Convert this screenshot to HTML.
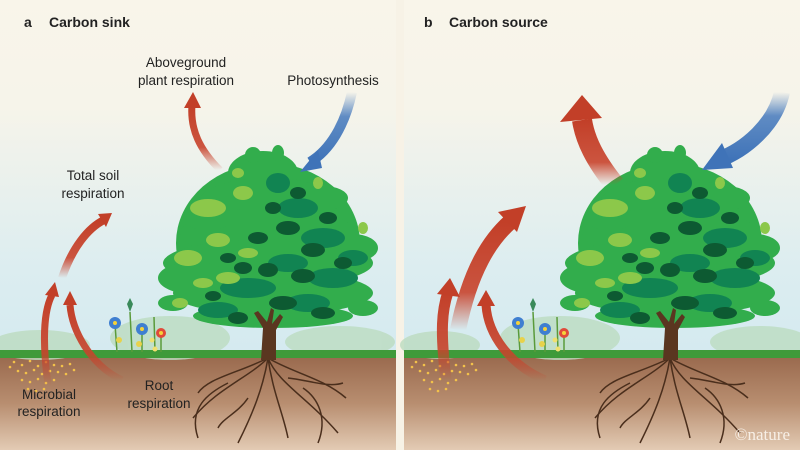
<!DOCTYPE html>
<html><head><meta charset="utf-8"><style>
html,body{margin:0;padding:0;background:#fff}
svg{display:block}
text{font-family:"Liberation Sans",sans-serif;fill:#222}
</style></head><body>
<svg width="800" height="450" viewBox="0 0 800 450" xmlns="http://www.w3.org/2000/svg">
<defs>
<linearGradient id="sky" x1="0" y1="0" x2="0" y2="1">
<stop offset="0" stop-color="#f9f5ea"/><stop offset="0.3" stop-color="#f6f4ea"/><stop offset="0.75" stop-color="#dcedf0"/><stop offset="1" stop-color="#d4eaf0"/></linearGradient>
<linearGradient id="soil" x1="0" y1="0" x2="0" y2="1">
<stop offset="0" stop-color="#9a6a4e"/><stop offset="0.5" stop-color="#b88e70"/><stop offset="1" stop-color="#e3cbb4"/></linearGradient>
<linearGradient id="redUp" x1="0" y1="1" x2="0" y2="0">
<stop offset="0" stop-color="#c8432c" stop-opacity="0"/><stop offset="0.35" stop-color="#c8432c" stop-opacity="0.9"/><stop offset="1" stop-color="#c23f28"/></linearGradient>
<linearGradient id="blueDn" x1="0" y1="0" x2="0" y2="1">
<stop offset="0" stop-color="#4f80bf" stop-opacity="0"/><stop offset="0.35" stop-color="#4f80bf" stop-opacity="0.9"/><stop offset="1" stop-color="#3f73b8"/></linearGradient>
<g id="tree">
<g stroke="#4a2e1c" stroke-width="1.5" fill="none">
<path d="M0 0 C-20 20 -50 30 -75 60"/><path d="M0 0 C-30 15 -60 20 -70 35"/><path d="M0 0 C10 25 40 40 70 75"/><path d="M0 0 C25 15 55 20 78 40"/><path d="M0 0 C-5 30 -15 55 -30 85"/><path d="M0 0 C5 35 15 55 20 80"/><path d="M-40 25 C-60 35 -80 50 -70 80"/><path d="M35 30 C50 40 60 60 50 85"/><path d="M-20 40 C-30 55 -45 60 -50 70"/><path d="M20 20 C40 22 60 30 75 25"/>
</g>
<g fill="#32ad4c">
<ellipse cx="0" cy="-115" rx="92" ry="80"/>
<ellipse cx="-5" cy="-185" rx="35" ry="22"/>
<ellipse cx="0" cy="-155" rx="70" ry="25"/>
<ellipse cx="0" cy="-125" rx="88" ry="25"/>
<ellipse cx="0" cy="-95" rx="105" ry="24"/>
<ellipse cx="5" cy="-65" rx="100" ry="22"/>
<ellipse cx="5" cy="-42" rx="80" ry="12"/>
<ellipse cx="-75" cy="-80" rx="35" ry="16"/><ellipse cx="85" cy="-110" rx="25" ry="14"/><ellipse cx="-60" cy="-140" rx="25" ry="12"/><ellipse cx="55" cy="-160" rx="25" ry="12"/>
<ellipse cx="-15" cy="-203" rx="8" ry="8"/><ellipse cx="10" cy="-205" rx="6" ry="8"/><ellipse cx="-95" cy="-55" rx="15" ry="8"/><ellipse cx="95" cy="-50" rx="15" ry="8"/>
</g>
<path d="M-7 2 L-5 -30 L-14 -45 L-10 -47 L-1 -36 L3 -50 L6 -48 L4 -34 L12 -44 L15 -41 L8 -28 L8 2 Z" fill="#5a3620"/>
<g fill="#118452">
<ellipse cx="30" cy="-150" rx="20" ry="10"/><ellipse cx="55" cy="-120" rx="22" ry="10"/><ellipse cx="20" cy="-95" rx="20" ry="9"/><ellipse cx="65" cy="-80" rx="25" ry="10"/><ellipse cx="-20" cy="-70" rx="28" ry="10"/><ellipse cx="40" cy="-55" rx="22" ry="9"/><ellipse cx="-50" cy="-48" rx="20" ry="8"/><ellipse cx="10" cy="-175" rx="12" ry="10"/><ellipse cx="85" cy="-100" rx="15" ry="8"/>
</g>
<g fill="#8cc84a">
<ellipse cx="-60" cy="-150" rx="18" ry="9"/><ellipse cx="-80" cy="-100" rx="14" ry="8"/><ellipse cx="-50" cy="-118" rx="12" ry="7"/><ellipse cx="-25" cy="-165" rx="10" ry="7"/><ellipse cx="-40" cy="-80" rx="12" ry="6"/><ellipse cx="-65" cy="-75" rx="10" ry="5"/><ellipse cx="-20" cy="-105" rx="10" ry="5"/><ellipse cx="50" cy="-175" rx="5" ry="6"/><ellipse cx="95" cy="-130" rx="5" ry="6"/><ellipse cx="-88" cy="-55" rx="8" ry="5"/><ellipse cx="-30" cy="-185" rx="6" ry="5"/>
</g>
<g fill="#0d5a32">
<ellipse cx="20" cy="-130" rx="12" ry="7"/><ellipse cx="45" cy="-108" rx="12" ry="7"/><ellipse cx="0" cy="-88" rx="10" ry="7"/><ellipse cx="35" cy="-82" rx="12" ry="7"/><ellipse cx="-10" cy="-120" rx="10" ry="6"/><ellipse cx="60" cy="-140" rx="9" ry="6"/><ellipse cx="15" cy="-55" rx="14" ry="7"/><ellipse cx="-25" cy="-90" rx="9" ry="6"/><ellipse cx="75" cy="-95" rx="9" ry="6"/><ellipse cx="-30" cy="-40" rx="10" ry="6"/><ellipse cx="55" cy="-45" rx="12" ry="6"/><ellipse cx="30" cy="-165" rx="8" ry="6"/><ellipse cx="-40" cy="-100" rx="8" ry="5"/><ellipse cx="5" cy="-150" rx="8" ry="6"/><ellipse cx="-55" cy="-62" rx="8" ry="5"/>
</g>
</g>
<g id="flowers">
<g stroke="#5a9a3a" stroke-width="1.5"><line x1="0" y1="0" x2="-2" y2="-28"/><line x1="25" y1="0" x2="25" y2="-22"/><line x1="44" y1="0" x2="44" y2="-18"/><line x1="15" y1="0" x2="13" y2="-40"/><line x1="38" y1="0" x2="37" y2="-35"/></g>
<path d="M13 -40 l-3 -8 l3 -6 l3 6z" fill="#3a8a5a"/>
<circle cx="-2" cy="-29" r="6" fill="#3f7fd0"/><circle cx="25" cy="-23" r="6" fill="#3f7fd0"/><circle cx="44" cy="-19" r="5" fill="#e04a3a"/><circle cx="44" cy="-19" r="2" fill="#f5d23a"/>
<circle cx="-2" cy="-29" r="2" fill="#f5d23a"/><circle cx="25" cy="-23" r="2" fill="#f5d23a"/>
<circle cx="2" cy="-12" r="3" fill="#e8d24a"/><circle cx="22" cy="-8" r="3" fill="#e8d24a"/><circle cx="35" cy="-12" r="2.5" fill="#f0e070"/><circle cx="38" cy="-3" r="2.5" fill="#f0e070"/>
</g>
<g id="dots" fill="#f3c24a">
<circle cx="0" cy="0" r="1.3"/><circle cx="8" cy="3" r="1.3"/><circle cx="16" cy="-1" r="1.3"/><circle cx="24" cy="4" r="1.3"/><circle cx="32" cy="0" r="1.3"/><circle cx="40" cy="3" r="1.3"/><circle cx="4" cy="9" r="1.3"/><circle cx="12" cy="11" r="1.3"/><circle cx="20" cy="8" r="1.3"/><circle cx="28" cy="12" r="1.3"/><circle cx="36" cy="9" r="1.3"/><circle cx="44" cy="10" r="1.3"/><circle cx="8" cy="18" r="1.3"/><circle cx="16" cy="20" r="1.3"/><circle cx="24" cy="17" r="1.3"/><circle cx="32" cy="21" r="1.3"/><circle cx="40" cy="18" r="1.3"/><circle cx="14" cy="27" r="1.3"/><circle cx="22" cy="29" r="1.3"/><circle cx="30" cy="27" r="1.3"/><circle cx="-4" cy="5" r="1.3"/><circle cx="48" cy="4" r="1.3"/><circle cx="56" cy="2" r="1.3"/><circle cx="52" cy="12" r="1.3"/><circle cx="60" cy="8" r="1.3"/>
</g>
</defs>
<rect width="800" height="450" fill="#f7f2e6"/>
<rect x="0" y="0" width="396" height="358" fill="url(#sky)"/>
<rect x="404" y="0" width="396" height="358" fill="url(#sky)"/>
<rect x="0" y="357" width="396" height="93" fill="url(#soil)"/>
<rect x="404" y="357" width="396" height="93" fill="url(#soil)"/>
<g fill="#bcdcc0" opacity="0.8">
<ellipse cx="40" cy="345" rx="50" ry="15"/><ellipse cx="170" cy="338" rx="60" ry="22"/><ellipse cx="340" cy="342" rx="55" ry="16"/>
<ellipse cx="440" cy="345" rx="40" ry="14"/><ellipse cx="560" cy="338" rx="60" ry="22"/><ellipse cx="760" cy="342" rx="50" ry="16"/>
</g>
<rect x="0" y="350" width="396" height="8" fill="#3f9a3a"/>
<rect x="404" y="350" width="396" height="8" fill="#3f9a3a"/>
<use href="#tree" x="268" y="358"/>
<use href="#tree" x="670" y="358"/>
<use href="#flowers" x="117" y="352"/>
<use href="#flowers" x="520" y="352"/>
<use href="#dots" x="14" y="362"/>
<use href="#dots" x="416" y="362"/>
<path d="M220 170 C200 150 190 130 192 105" stroke="url(#redUp)" stroke-width="7" fill="none"/>
<polygon points="184,108 193,92 201,108" fill="#c23f28"/>
<path d="M352 92 C345 125 330 150 310 162" stroke="url(#blueDn)" stroke-width="10" fill="none"/>
<polygon points="300,172 318,150 322,168" fill="#3f73b8"/>
<path d="M62 278 C72 248 88 228 104 220" stroke="url(#redUp)" stroke-width="8" fill="none"/>
<polygon points="98,214 112,213 106,227" fill="#c23f28"/>
<path d="M48 385 C42 340 44 310 52 295" stroke="url(#redUp)" stroke-width="7" fill="none"/>
<polygon points="45,295 55,282 59,297" fill="#c23f28"/>
<path d="M122 380 C90 365 72 330 70 305" stroke="url(#redUp)" stroke-width="7" fill="none"/>
<polygon points="63,305 70,291 77,305" fill="#c23f28"/>
<path d="M615 185 C595 160 585 140 582 120" stroke="url(#redUp)" stroke-width="20" fill="none"/>
<polygon points="560,122 582,95 602,118" fill="#c23f28"/>
<path d="M782 92 C775 125 745 150 718 160" stroke="url(#blueDn)" stroke-width="16" fill="none"/>
<polygon points="702,170 722,143 733,168" fill="#3f73b8"/>
<path d="M458 330 C470 270 490 240 510 222" stroke="url(#redUp)" stroke-width="16" fill="none"/>
<polygon points="498,212 526,206 517,232" fill="#c23f28"/>
<path d="M446 380 C440 330 442 310 448 292" stroke="url(#redUp)" stroke-width="11" fill="none"/>
<polygon points="437,294 450,278 460,297" fill="#c23f28"/>
<path d="M545 380 C510 365 488 335 486 305" stroke="url(#redUp)" stroke-width="9" fill="none"/>
<polygon points="477,306 486,290 495,306" fill="#c23f28"/>
<text x="24" y="27" font-size="14" font-weight="bold">a</text>
<text x="49" y="27" font-size="14" font-weight="bold">Carbon sink</text>
<text x="424" y="27" font-size="14" font-weight="bold">b</text>
<text x="449" y="27" font-size="14" font-weight="bold">Carbon source</text>
<text x="186" y="67" font-size="13.5" text-anchor="middle">Aboveground</text>
<text x="186" y="85" font-size="13.5" text-anchor="middle">plant respiration</text>
<text x="333" y="85" font-size="13.5" text-anchor="middle">Photosynthesis</text>
<text x="93" y="180" font-size="13.5" text-anchor="middle">Total soil</text>
<text x="93" y="198" font-size="13.5" text-anchor="middle">respiration</text>
<text x="49" y="399" font-size="13.5" text-anchor="middle">Microbial</text>
<text x="49" y="416" font-size="13.5" text-anchor="middle">respiration</text>
<text x="159" y="390" font-size="13.5" text-anchor="middle">Root</text>
<text x="159" y="408" font-size="13.5" text-anchor="middle">respiration</text>
<text x="790" y="440" font-size="17" text-anchor="end" style="font-family:'Liberation Serif',serif;fill:#f7efe6">©nature</text>
</svg>
</body></html>
